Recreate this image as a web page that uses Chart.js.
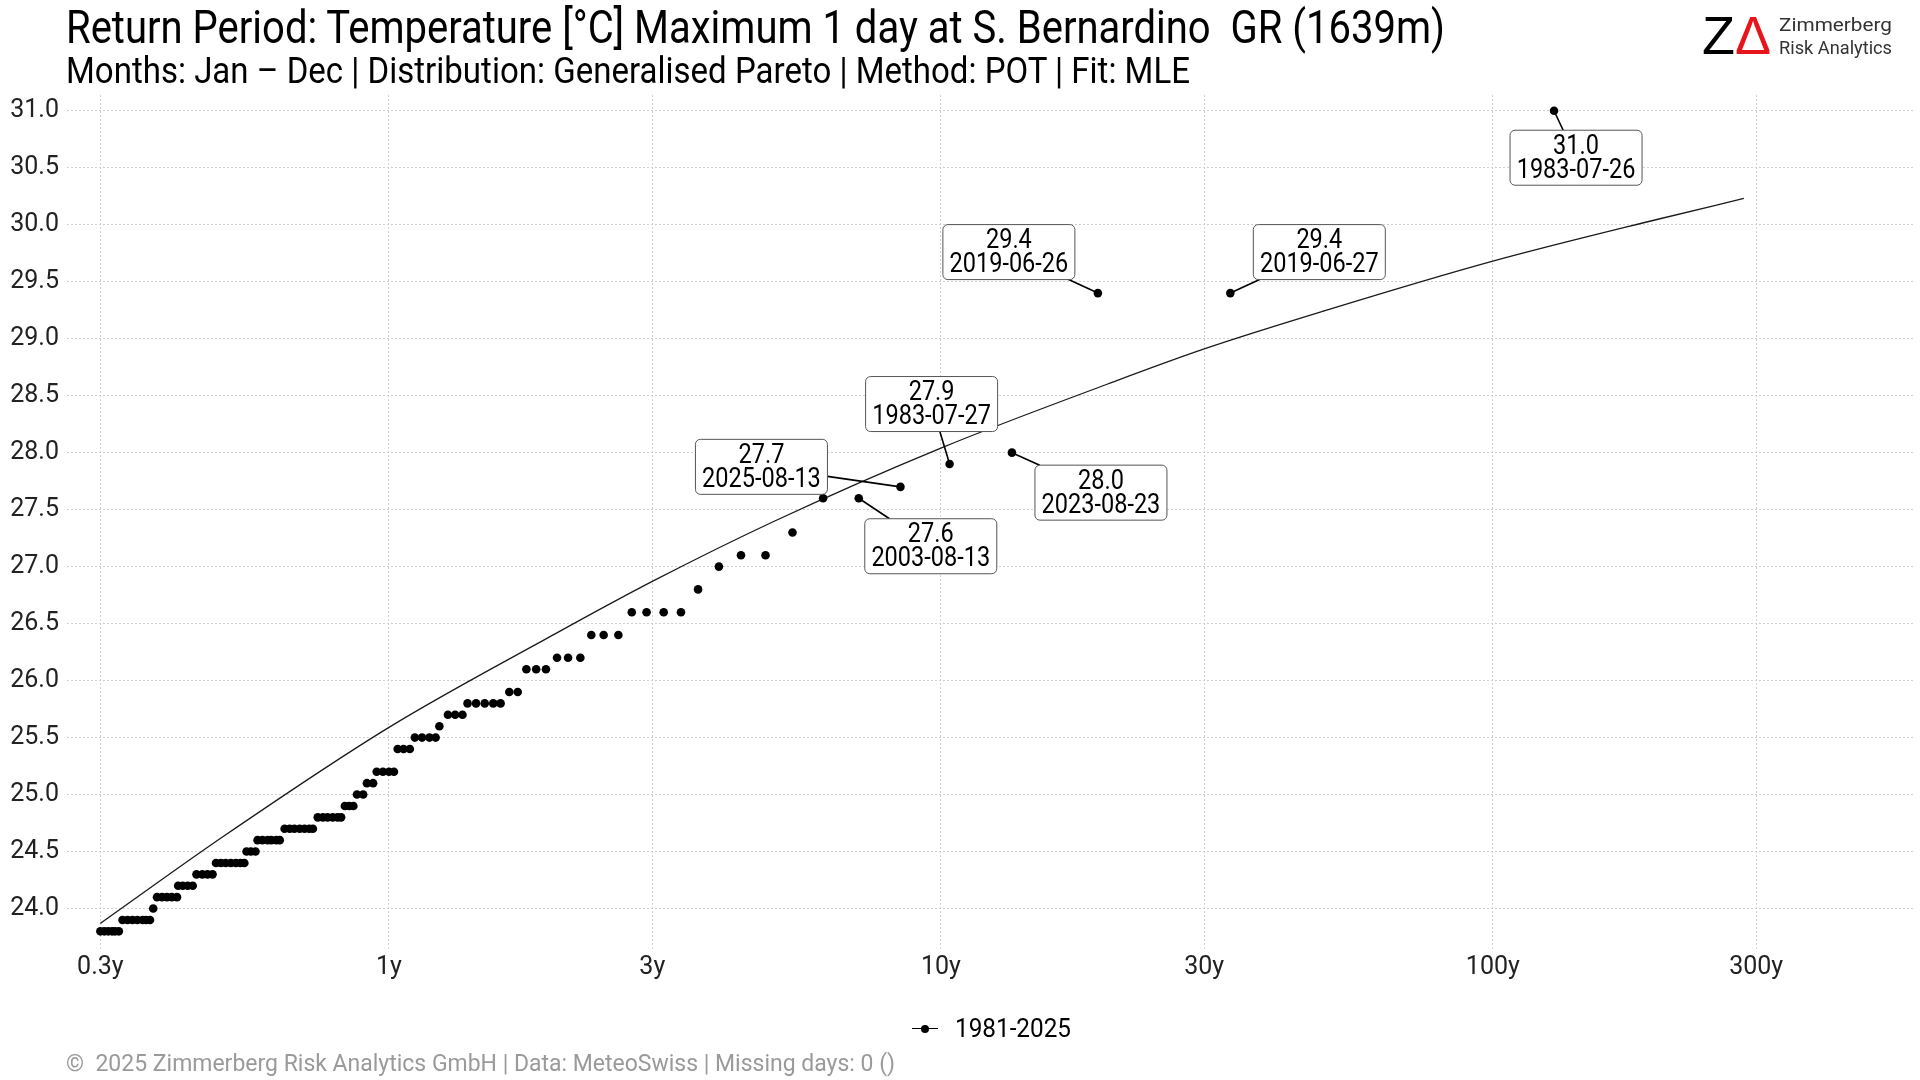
<!DOCTYPE html>
<html>
<head>
<meta charset="utf-8">
<script src="https://cdn.jsdelivr.net/npm/chart.js@4.4.1/dist/chart.umd.min.js"></script>
<style>
  body { margin: 0; background: #fff; }
  #wrap { position: relative; width: 1920px; height: 1080px; overflow: hidden; font-family: Roboto, sans-serif; }
  #chart { position: absolute; left: 0; top: 0; }
  .txt { position: absolute; white-space: pre; transform-origin: 0 0; line-height: 1; }
</style>
</head>
<body>
<div id="wrap">
  <canvas id="chart" width="1920" height="1080"></canvas>

  <div class="txt" data-w="1379" style="left:66px; top:4px; font-size:46px; color:#000;">Return Period: Temperature [°C] Maximum 1 day at S. Bernardino  GR (1639m)</div>
  <div class="txt" data-w="1124" style="left:66px; top:53px; font-size:36px; color:#000;">Months: Jan – Dec | Distribution: Generalised Pareto | Method: POT | Fit: MLE</div>

  <!-- logo -->
  <div class="txt" style="left:1702px; top:8px; font-size:54px; font-family:'Liberation Sans', sans-serif; color:#000;">Z<span style="color:#e8141c;">Δ</span></div>
  <div class="txt" data-w="113" style="left:1779px; top:13px; font-size:19px; line-height:23px; color:#333;">Zimmerberg</div>
  <div class="txt" data-w="113" style="left:1779px; top:36px; font-size:19px; line-height:23px; color:#333;">Risk Analytics</div>

  <!-- leyenda -->
  <div style="position:absolute; left:912px; top:1028px; width:26px; height:0; border-top:1.3px solid #000;"></div>
  <div style="position:absolute; left:920.5px; top:1024.5px; width:8.6px; height:8.6px; border-radius:50%; background:#000;"></div>
  <div class="txt" data-w="116" style="left:955px; top:1016px; font-size:25px; color:#000;">1981-2025</div>

  <div class="txt" data-w="829" style="left:66px; top:1051px; font-size:24px; color:#9a9a9a;">©  2025 Zimmerberg Risk Analytics GmbH | Data: MeteoSwiss | Missing days: 0 ()</div>
</div>

<script>
  // Periodos de retorno empíricos (años) y temperaturas observadas
  const obsT = [
    0.300, 0.305, 0.310, 0.315, 0.319, 0.324,
    0.329, 0.336, 0.343, 0.350, 0.358, 0.363, 0.369,
    0.374,
    0.380, 0.388, 0.396, 0.404, 0.413,
    0.415, 0.423, 0.432, 0.441,
    0.448, 0.459, 0.469, 0.479,
    0.486, 0.496, 0.506, 0.517, 0.528, 0.538, 0.547,
    0.552, 0.562, 0.573,
    0.578, 0.590, 0.603, 0.612, 0.625, 0.634,
    0.647, 0.661, 0.674, 0.689, 0.703, 0.717, 0.728,
    0.743, 0.759, 0.774, 0.791, 0.807, 0.819,
    0.832, 0.847, 0.862,
    0.875, 0.898,
    0.912, 0.936,
    0.950, 0.975, 1.000, 1.021,
    1.037, 1.063, 1.091,
    1.114, 1.148, 1.184, 1.215,
    1.234,
    1.279, 1.318, 1.359,
    1.388, 1.438, 1.491, 1.545, 1.593,
    1.652, 1.711,
    1.774, 1.848, 1.925,
    2.016, 2.111, 2.222,
    2.326, 2.449, 2.604,
    2.754, 2.929, 3.146, 3.381,
    3.631,
    3.961,
    4.343, 4.811,
    5.384,
    6.118, 7.099,
    8.447,
    10.37,
    13.45,
    19.25, 33.45,
    129.1
  ];
  const obsTemp = [
    23.8, 23.8, 23.8, 23.8, 23.8, 23.8,
    23.9, 23.9, 23.9, 23.9, 23.9, 23.9, 23.9,
    24.0,
    24.1, 24.1, 24.1, 24.1, 24.1,
    24.2, 24.2, 24.2, 24.2,
    24.3, 24.3, 24.3, 24.3,
    24.4, 24.4, 24.4, 24.4, 24.4, 24.4, 24.4,
    24.5, 24.5, 24.5,
    24.6, 24.6, 24.6, 24.6, 24.6, 24.6,
    24.7, 24.7, 24.7, 24.7, 24.7, 24.7, 24.7,
    24.8, 24.8, 24.8, 24.8, 24.8, 24.8,
    24.9, 24.9, 24.9,
    25.0, 25.0,
    25.1, 25.1,
    25.2, 25.2, 25.2, 25.2,
    25.4, 25.4, 25.4,
    25.5, 25.5, 25.5, 25.5,
    25.6,
    25.7, 25.7, 25.7,
    25.8, 25.8, 25.8, 25.8, 25.8,
    25.9, 25.9,
    26.1, 26.1, 26.1,
    26.2, 26.2, 26.2,
    26.4, 26.4, 26.4,
    26.6, 26.6, 26.6, 26.6,
    26.8,
    27.0,
    27.1, 27.1,
    27.3,
    27.6, 27.6,
    27.7,
    27.9,
    28.0,
    29.4, 29.4,
    31.0
  ];

  // Curva ajustada (Pareto generalizada)
  const fitT = [0.3, 0.5, 1, 2, 3, 5, 10, 20, 30, 50, 100, 200, 285];
  const fitTemp = [23.87, 24.63, 25.59, 26.41, 26.87, 27.40, 28.04, 28.60, 28.91, 29.25, 29.68, 30.05, 30.23];

  // Ejes
  const xTicks = [0.3, 1, 3, 10, 30, 100, 300];
  const yTicks = [24.0, 24.5, 25.0, 25.5, 26.0, 26.5, 27.0, 27.5, 28.0, 28.5, 29.0, 29.5, 30.0, 30.5, 31.0];

  // Etiquetas de los valores extremos
  const etiquetaT = [129.1, 19.25, 33.45, 10.37, 8.447, 13.45, 7.099];
  const etiquetaTemp = [31.0, 29.4, 29.4, 27.9, 27.7, 28.0, 27.6];
  const etiquetaFecha = ['1983-07-26', '2019-06-26', '2019-06-27', '1983-07-27', '2025-08-13', '2023-08-23', '2003-08-13'];
  // desplazamiento de cada caja respecto a su punto (px)
  const desplazamientos = [[22, 47], [-89, -41], [89, -41], [-18, -60], [-139, -20], [89, 40], [72, 48]];

  Chart.defaults.font.family = 'Roboto, sans-serif';

  // Dibujar las cajas con la fecha y la línea que las une a su punto
  const pluginEtiquetas = {
    id: 'etiquetas',
    afterDatasetsDraw(chart) {
      const ctx = chart.ctx;
      const sx = chart.scales.x, sy = chart.scales.y;
      const hw = 66, hh = 27.5;
      const estrecho = 0.84; // letra condensada
      ctx.save();
      for (let i = 0; i < etiquetaT.length; i++) {
        const px = sx.getPixelForValue(etiquetaT[i]);
        const py = sy.getPixelForValue(etiquetaTemp[i]);
        const cx = px + desplazamientos[i][0];
        const cy = py + desplazamientos[i][1];
        // punto del borde de la caja hacia el punto
        const dx = px - cx, dy = py - cy;
        const t = Math.min(hw / Math.abs(dx || 1e-6), hh / Math.abs(dy || 1e-6));
        const ex = cx + dx * t, ey = cy + dy * t;
        ctx.strokeStyle = '#000';
        ctx.lineWidth = 1.6;
        ctx.beginPath();
        ctx.moveTo(px, py);
        ctx.lineTo(ex, ey);
        ctx.stroke();

        ctx.fillStyle = '#fff';
        ctx.strokeStyle = '#555';
        ctx.lineWidth = 1;
        ctx.beginPath();
        ctx.roundRect(cx - hw, cy - hh, hw * 2, hh * 2, 5);
        ctx.fill();
        ctx.stroke();

        ctx.save();
        ctx.translate(cx, cy);
        ctx.scale(estrecho, 1);
        ctx.fillStyle = '#000';
        ctx.font = '28px Roboto, sans-serif';
        ctx.textAlign = 'center';
        ctx.textBaseline = 'middle';
        ctx.fillText(etiquetaTemp[i].toFixed(1), 0, -11);
        ctx.fillText(etiquetaFecha[i], 0, 13);
        ctx.restore();
      }
      ctx.restore();
    }
  };

  const ctx = document.getElementById('chart').getContext('2d');
  const grafica = new Chart(ctx, {
    type: 'scatter',
    data: {
      datasets: [
        {
          label: 'ajuste',
          type: 'line',
          data: fitT.map((t, i) => ({ x: t, y: fitTemp[i] })),
          borderColor: '#1a1a1a',
          borderWidth: 1.3,
          pointRadius: 0,
          cubicInterpolationMode: 'monotone',
          fill: false,
          order: 2
        },
        {
          label: '1981-2025',
          data: obsT.map((t, i) => ({ x: t, y: obsTemp[i] })),
          backgroundColor: '#000',
          borderWidth: 0,
          pointRadius: 4.3,
          order: 1
        }
      ]
    },
    options: {
      responsive: false,
      animation: false,
      devicePixelRatio: 1,
      layout: { padding: { top: 95, right: 5, bottom: 91, left: 0 } },
      plugins: {
        legend: { display: false },
        tooltip: { enabled: false },
        title: { display: false }
      },
      scales: {
        x: {
          type: 'logarithmic',
          min: 0.261,
          max: 582,
          afterBuildTicks: s => { s.ticks = xTicks.map(v => ({ value: v })); },
          afterFit: s => { s.height = 40; },
          ticks: {
            callback: v => v + 'y',
            color: '#222',
            font: { size: 25 },
            padding: 4,
            maxRotation: 0,
            autoSkip: false
          },
          grid: { color: '#d0d0d0', lineWidth: 1, drawTicks: false },
          border: { display: false, dash: [2, 2] }
        },
        y: {
          min: 23.645,
          max: 31.138,
          afterBuildTicks: s => { s.ticks = yTicks.map(v => ({ value: v })); },
          afterFit: s => { s.width = 67; },
          ticks: {
            callback: v => v.toFixed(1),
            color: '#222',
            font: { size: 25 },
            padding: 8,
            autoSkip: false
          },
          grid: { color: '#d0d0d0', lineWidth: 1, drawTicks: false },
          border: { display: false, dash: [2, 2] }
        }
      }
    },
    plugins: [pluginEtiquetas]
  });

  // Ajustar el ancho de los textos al del original
  function ajustarTextos() {
    document.querySelectorAll('[data-w]').forEach(el => {
      el.style.transform = 'none';
      const w = el.getBoundingClientRect().width;
      el.style.transform = 'scaleX(' + (parseFloat(el.dataset.w) / w) + ')';
    });
  }
  ajustarTextos();
  if (document.fonts) document.fonts.ready.then(ajustarTextos);
</script>
</body>
</html>
